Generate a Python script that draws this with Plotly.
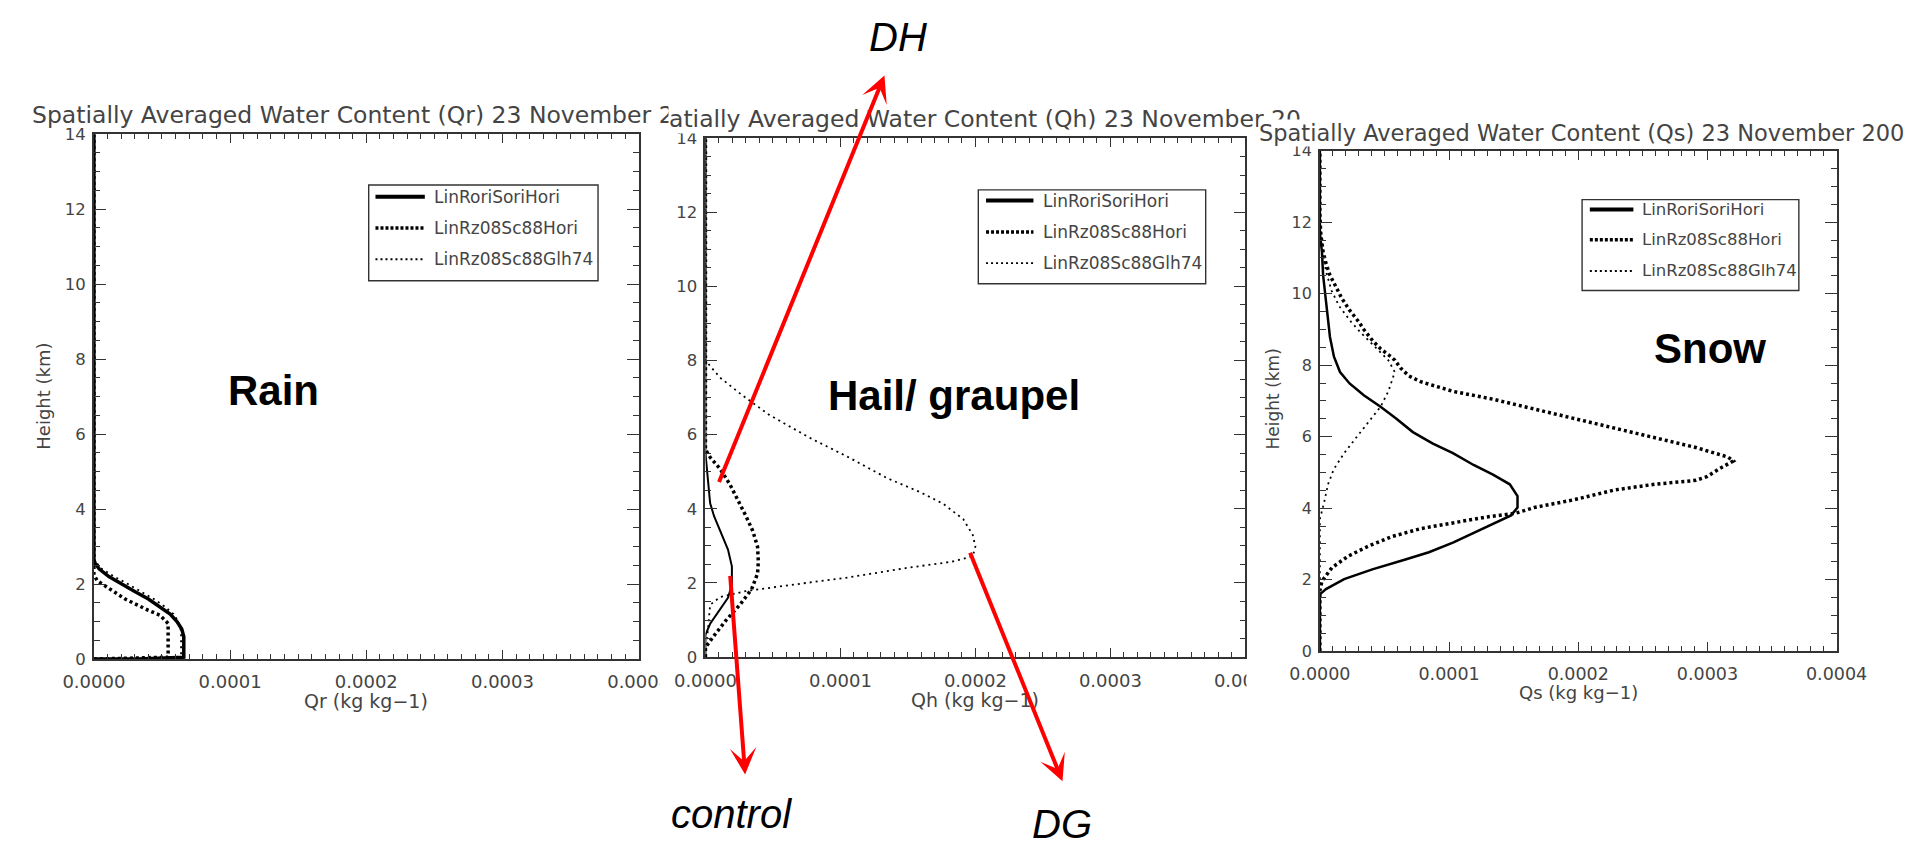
import plotly.graph_objects as go

W, H = 1915, 846

# ---------------- data (heights in km, mixing ratio in kg/kg) ----------------
series_names = ["LinRoriSoriHori", "LinRz08Sc88Hori", "LinRz08Sc88Glh74"]

height_ticks = [0, 2, 4, 6, 8, 10, 12, 14]
height_tick_text = ["0", "2", "4", "6", "8", "10", "12", "14"]
q_ticks = [0.0, 0.0001, 0.0002, 0.0003, 0.0004]
q_tick_text = ["0.0000", "0.0001", "0.0002", "0.0003", "0.0004"]

# Rain (Qr)
rain_control_h = [0.0, 0.0, 0.05, 0.6, 0.8, 1.0, 1.2, 1.4, 1.6, 1.8, 2.0, 2.2, 2.4, 2.55, 2.65, 14.0]
rain_control_q = [0.0, 3.3e-5, 6.6e-5, 6.6e-5, 6.45e-5, 6.1e-5, 5.6e-5, 4.85e-5, 4.0e-5, 3.0e-5, 2.0e-5,
                  1.1e-5, 4.0e-6, 1.0e-6, 0.0, 0.0]
rain_dh_h = [0.0, 0.05, 0.95, 1.05, 1.17, 1.3, 1.43, 1.6, 1.78, 1.95, 2.09, 2.25, 14.0]
rain_dh_q = [0.0, 5.45e-5, 5.45e-5, 5.2e-5, 4.85e-5, 4.0e-5, 3.2e-5, 2.3e-5, 1.54e-5, 8.0e-6, 2.4e-6, 0.0, 0.0]
rain_dg_h = [0.0, 0.05, 0.75, 1.0, 1.2, 1.4, 1.6, 1.8, 2.0, 2.2, 2.4, 2.6, 2.7, 14.0]
rain_dg_q = [0.0, 6.4e-5, 6.4e-5, 6.2e-5, 5.85e-5, 5.2e-5, 4.4e-5, 3.5e-5, 2.5e-5, 1.5e-5, 6.0e-6, 1.0e-6,
             0.0, 0.0]

# Hail / graupel (Qh)
hail_control_h = [0.0, 0.6, 0.9, 1.3, 1.6, 1.95, 2.45, 2.9, 3.4, 3.8, 4.15, 4.7, 5.2, 5.5, 14.0]
hail_control_q = [0.0, 0.0, 3.5e-6, 1.08e-5, 1.67e-5, 1.96e-5, 1.96e-5, 1.67e-5, 1.08e-5, 6.4e-6, 3.5e-6,
                  2.0e-6, 5.0e-7, 0.0, 0.0]
hail_dh_h = [0.0, 0.26, 0.58, 0.99, 1.41, 1.83, 2.25, 2.57, 2.98, 3.40, 3.82, 4.24, 4.66, 5.08, 5.39, 5.6, 14.0]
hail_dh_q = [0.0, 0.0, 6.4e-6, 1.52e-5, 2.55e-5, 3.42e-5, 3.86e-5, 3.92e-5, 3.86e-5, 3.51e-5, 2.98e-5,
             2.4e-5, 1.81e-5, 1.08e-5, 3.5e-6, 0.0, 0.0]
hail_dg_h = [0.0, 1.41, 1.62, 1.78, 1.94, 2.15, 2.41, 2.57, 2.72, 2.98, 3.30, 3.72, 4.14, 4.45, 4.82, 5.39,
             5.92, 6.54, 7.07, 7.54, 7.85, 8.01, 14.0]
hail_dg_q = [0.0, 3.5e-6, 1.08e-5, 2.98e-5, 6.2e-5, 1.06e-4, 1.50e-4, 1.82e-4, 1.98e-4, 2.0e-4, 1.98e-4,
             1.91e-4, 1.76e-4, 1.59e-4, 1.35e-4, 1.06e-4, 7.7e-5, 4.7e-5, 2.7e-5, 1.08e-5, 3.5e-6, 0.0, 0.0]

# Snow (Qs)
snow_control_h = [0.0, 1.6, 1.64, 1.74, 2.02, 2.29, 2.56, 2.77, 3.04, 3.37, 3.64, 3.80, 4.02, 4.34, 4.67,
                  4.94, 5.21, 5.54, 5.81, 6.13, 6.51, 6.84, 7.16, 7.49, 7.81, 8.24, 8.79, 9.44, 10.09,
                  10.52, 11.17, 11.71, 14.0]
snow_control_q = [0.0, 0.0, 1.6e-6, 4.7e-6, 1.88e-5, 4.06e-5, 6.56e-5, 8.44e-5, 1.03e-4, 1.22e-4, 1.375e-4,
                  1.48e-4, 1.53e-4, 1.53e-4, 1.47e-4, 1.34e-4, 1.19e-4, 1.03e-4, 8.75e-5, 7.2e-5, 5.9e-5,
                  4.7e-5, 3.4e-5, 2.3e-5, 1.56e-5, 1.09e-5, 7.8e-6, 5.6e-6, 3.8e-6, 2.5e-6, 1.6e-6, 0.0, 0.0]
snow_dh_h = [0.0, 1.7, 1.96, 2.34, 2.66, 2.94, 3.21, 3.43, 3.59, 3.75, 3.86, 4.02, 4.24, 4.51, 4.67, 4.78,
             4.89, 5.10, 5.32, 5.43, 5.70, 5.97, 6.24, 6.51, 6.78, 7.05, 7.27, 7.54, 7.70, 7.92, 8.14, 8.24,
             8.46, 8.68, 9.0, 9.22, 9.54, 9.87, 10.19, 10.52, 10.85, 11.17, 11.71, 12.25, 14.0]
snow_dh_q = [0.0, 0.0, 1.6e-6, 9.4e-6, 2.19e-5, 3.75e-5, 5.6e-5, 7.8e-5, 1.03e-4, 1.28e-4, 1.515e-4,
             1.66e-4, 1.97e-4, 2.28e-4, 2.59e-4, 2.91e-4, 3.0e-4, 3.09e-4, 3.2e-4, 3.16e-4, 2.91e-4,
             2.59e-4, 2.28e-4, 1.97e-4, 1.66e-4, 1.34e-4, 1.03e-4, 7.8e-5, 6.9e-5, 6.25e-5, 5.8e-5,
             5.5e-5, 4.7e-5, 4.1e-5, 3.4e-5, 3.0e-5, 2.3e-5, 1.7e-5, 1.25e-5, 7.8e-6, 4.7e-6, 2.5e-6,
             6.0e-7, 0.0, 0.0]
snow_dg_h = [0.0, 3.7, 4.13, 4.67, 5.10, 5.54, 5.97, 6.40, 6.84, 7.27, 7.59, 7.81, 8.14, 8.35, 8.57, 8.90,
             9.22, 9.65, 10.09, 10.63, 11.17, 11.82, 12.2, 14.0]
snow_dg_q = [0.0, 0.0, 3.1e-6, 6.3e-6, 1.09e-5, 1.88e-5, 2.8e-5, 3.75e-5, 4.7e-5, 5.3e-5, 5.6e-5, 5.8e-5,
             5.3e-5, 4.7e-5, 4.1e-5, 3.2e-5, 2.4e-5, 1.5e-5, 9.0e-6, 4.7e-6, 2.2e-6, 5.0e-7, 0.0, 0.0]

titles = ["Spatially Averaged Water Content (Qr) 23 November 20",
          "atially Averaged Water Content (Qh) 23 November 20",
          "Spatially Averaged Water Content (Qs) 23 November 200"]
x_titles = ["Qr (kg kg\u22121)", "Qh (kg kg\u22121)", "Qs (kg kg\u22121)"]
panel_labels = ["Rain", "Hail/ graupel", "Snow"]

# ---------------- layout helpers (pixel -> paper) ----------------
def px(x):
    return x / W


def py(y):
    return 1 - y / H


# panel boxes in pixels: left, right, top, bottom
boxes = [(65, 628, 128, 665), (697, 1255, 132, 663), (1332, 1866, 145, 657)]

GREY = "#444444"
AXC = "#333333"
FONT = "DejaVu Sans"

fig = go.Figure()

panels = [
    [(rain_control_q, rain_control_h), (rain_dh_q, rain_dh_h), (rain_dg_q, rain_dg_h)],
    [(hail_control_q, hail_control_h), (hail_dh_q, hail_dh_h), (hail_dg_q, hail_dg_h)],
    [(snow_control_q, snow_control_h), (snow_dh_q, snow_dh_h), (snow_dg_q, snow_dg_h)],
]
solid_w = [3.5, 2.0, 2.5]
styles = [
    lambda i: dict(color="black", width=solid_w[i], dash="solid"),
    lambda i: dict(color="black", width=3.5, dash="3px,3px"),
    lambda i: dict(color="black", width=1.8, dash="2px,4px"),
]

for p, series in enumerate(panels):
    xa = "x" if p == 0 else f"x{p + 1}"
    ya = "y" if p == 0 else f"y{p + 1}"
    for s, (q, h) in enumerate(series):
        fig.add_trace(go.Scatter(x=q, y=h, mode="lines", name=series_names[s],
                                 line=styles[s](p), xaxis=xa, yaxis=ya,
                                 showlegend=False, hoverinfo="skip"))

layout = dict(width=W, height=H, margin=dict(l=0, r=0, t=0, b=0),
              paper_bgcolor="white", plot_bgcolor="white", showlegend=False)

xfont = [18, 18, 17.5]
yfont = [16.5, 16.5, 16]
for p, (l, r, t, b) in enumerate(boxes):
    xk = "xaxis" if p == 0 else f"xaxis{p + 1}"
    yk = "yaxis" if p == 0 else f"yaxis{p + 1}"
    xa_id = "x" if p == 0 else f"x{p + 1}"
    ya_id = "y" if p == 0 else f"y{p + 1}"
    layout[xk] = dict(domain=[px(l), px(r)], range=[0, 0.0004], anchor=ya_id,
                      tickvals=q_ticks, ticktext=q_tick_text, ticks="inside", ticklen=9,
                      tickwidth=1.3, tickcolor=AXC, showline=True, linecolor=AXC, linewidth=1.6,
                      mirror="ticks", showgrid=False, zeroline=False, ticklabelstandoff=6,
                      tickfont=dict(family=FONT, size=xfont[p], color=GREY),
                      minor=dict(dtick=0.00001, tick0=0, ticks="inside", ticklen=5,
                                 tickwidth=1.2, tickcolor=AXC, showgrid=False))
    layout[yk] = dict(domain=[py(b), py(t)], range=[0, 14], anchor=xa_id,
                      tickvals=height_ticks, ticktext=height_tick_text, ticks="inside", ticklen=12,
                      tickwidth=1.3, tickcolor=AXC, showline=True, linecolor=AXC, linewidth=1.6,
                      mirror="ticks", showgrid=False, zeroline=False, ticklabelstandoff=3,
                      tickfont=dict(family=FONT, size=yfont[p], color=GREY),
                      minor=dict(dtick=0.5, tick0=0, ticks="inside", ticklen=6,
                                 tickwidth=1.2, tickcolor=AXC, showgrid=False))

annotations = []
shapes = []

# titles (later ones carry a white background, hiding what they overlap as in the collage)
title_pos = [(0, 108, 23.5, None), (658, 113, 23.5, "white"), (1268, 127, 22.5, "white")]
for p, (x0, y0, fs, bg) in enumerate(title_pos):
    a = dict(text=titles[p], x=px(x0), y=py(y0), xref="paper", yref="paper", xanchor="left",
             yanchor="middle", showarrow=False, font=dict(family=FONT, size=fs, color=GREY),
             borderpad=0)
    if bg:
        a["bgcolor"] = bg
    annotations.append(a)

# y-axis titles (panel 2's is hidden in the collage)
for (x0, y0, fs) in [(13, 396, 18), (1284, 399, 17)]:
    annotations.append(dict(text="Height (km)", x=px(x0), y=py(y0), xref="paper", yref="paper",
                            textangle=-90, showarrow=False, xanchor="center", yanchor="middle",
                            font=dict(family=FONT, size=fs, color=GREY)))

# x-axis titles
for p, (x0, y0, fs) in enumerate([(346, 708, 19), (976, 707, 19), (1599, 699, 18)]):
    annotations.append(dict(text=x_titles[p], x=px(x0), y=py(y0), xref="paper", yref="paper",
                            showarrow=False, xanchor="center", yanchor="middle",
                            font=dict(family=FONT, size=fs, color=GREY)))

# white masks where the next panel image overlaps a tick label
for (x0, y0, w, h) in [(657, 684, 12, 30), (1276, 684, 36, 30)]:
    annotations.append(dict(text=" ", x=px(x0), y=py(y0), xref="paper", yref="paper", showarrow=False,
                            width=w, height=h, bgcolor="white", xanchor="center", yanchor="middle"))

# legends drawn as boxes with line samples
legends = [
    dict(box=(349, 180, 586, 278), rows=[192, 224, 256], sx=(356, 407), tx=414, fs=17),
    dict(box=(979, 185, 1214, 281), rows=[196, 228, 260], sx=(987, 1036), tx=1044, fs=17),
    dict(box=(1603, 195, 1827, 288), rows=[205, 236, 268], sx=(1611, 1656), tx=1663, fs=16.5),
]
legend_styles = [dict(color="black", width=4), dict(color="black", width=3.5, dash="3px,2px"),
                 dict(color="black", width=1.8, dash="2px,3px")]
for lg in legends:
    l, t, r, b = lg["box"]
    shapes.append(dict(type="rect", xref="paper", yref="paper", x0=px(l), x1=px(r), y0=py(b), y1=py(t),
                       line=dict(color=AXC, width=1.4), fillcolor="rgba(0,0,0,0)"))
    for s, yy in enumerate(lg["rows"]):
        shapes.append(dict(type="line", xref="paper", yref="paper", x0=px(lg["sx"][0]), x1=px(lg["sx"][1]),
                           y0=py(yy), y1=py(yy), line=legend_styles[s]))
        annotations.append(dict(text=series_names[s], x=px(lg["tx"]), y=py(yy), xref="paper", yref="paper",
                                xanchor="left", yanchor="middle", showarrow=False,
                                font=dict(family=FONT, size=lg["fs"], color=GREY)))

# big panel labels
for p, (x0, y0) in enumerate([(251, 390), (954, 395), (1735, 347)]):
    annotations.append(dict(text="<b>" + panel_labels[p] + "</b>", x=px(x0), y=py(y0), xref="paper",
                            yref="paper", showarrow=False, xanchor="center", yanchor="middle",
                            font=dict(family="Liberation Sans", size=42, color="black")))

# red arrows and italic case names (head pixel, tail pixel, label, label pixel)
arrows = [
    ((882, 68), (716, 476), "DH", (896, 29)),
    ((738, 783), (723, 583), "control", (724, 823)),
    ((1066, 790), (973, 560), "DG", (1066, 834)),
]
for (hx, hy), (tx, ty), lab, (lx, ly) in arrows:
    annotations.append(dict(text="", x=px(hx), y=py(hy), xref="paper", yref="paper",
                            ax=tx - hx, ay=ty - hy, axref="pixel", ayref="pixel", showarrow=True,
                            arrowhead=3, arrowsize=1.1, arrowwidth=4, arrowcolor="#ff0000",
                            standoff=0, startstandoff=0))
    annotations.append(dict(text="<i>" + lab + "</i>", x=px(lx), y=py(ly), xref="paper", yref="paper",
                            showarrow=False, xanchor="center", yanchor="middle",
                            font=dict(family="Liberation Sans", size=40, color="black")))

layout["annotations"] = annotations
layout["shapes"] = shapes
fig.update_layout(**layout)
fig.write_html("out.html", post_script="document.body.style.margin='0px';")
